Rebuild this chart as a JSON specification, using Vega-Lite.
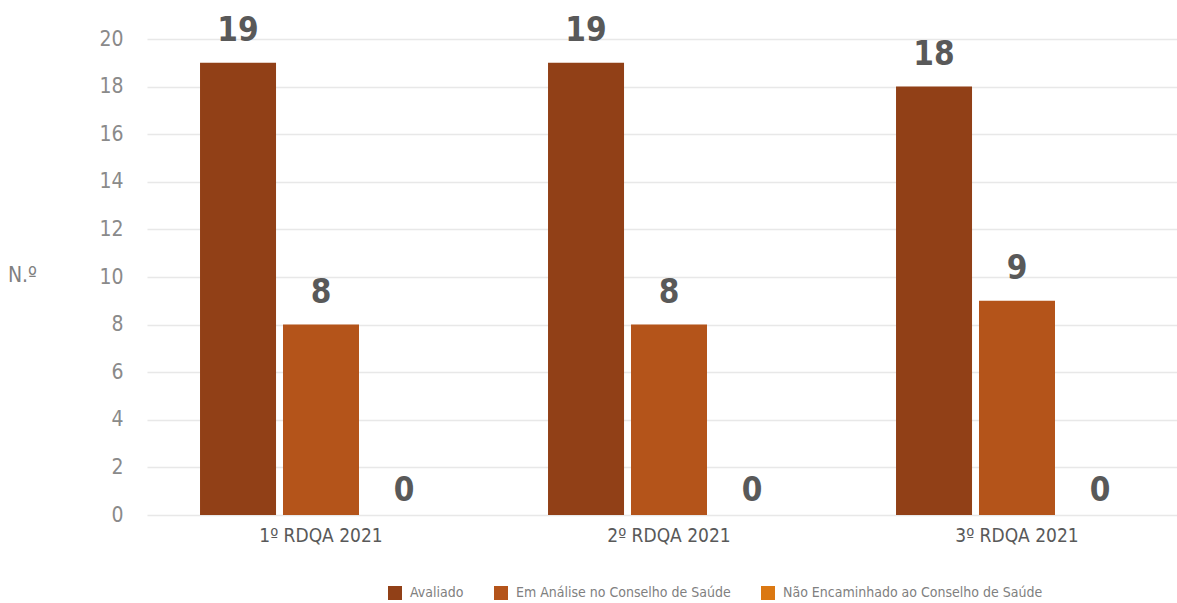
{
  "$schema": "https://vega.github.io/schema/vega-lite/v6.json",
  "autosize": {"type": "none"},
  "padding": {"left": 141, "top": 39, "right": 0, "bottom": 88},
  "width": 1036,
  "height": 476,
  "background": "white",
  "config": {
    "view": {"stroke": null},
    "font": "DejaVu Sans Condensed"
  },
  "data": {
    "values": [
      {"grupo": "1º RDQA 2021", "estado": "Avaliado", "valor": 19},
      {"grupo": "1º RDQA 2021", "estado": "Em Análise no Conselho de Saúde", "valor": 8},
      {"grupo": "1º RDQA 2021", "estado": "Não Encaminhado ao Conselho de Saúde", "valor": 0},
      {"grupo": "2º RDQA 2021", "estado": "Avaliado", "valor": 19},
      {"grupo": "2º RDQA 2021", "estado": "Em Análise no Conselho de Saúde", "valor": 8},
      {"grupo": "2º RDQA 2021", "estado": "Não Encaminhado ao Conselho de Saúde", "valor": 0},
      {"grupo": "3º RDQA 2021", "estado": "Avaliado", "valor": 18},
      {"grupo": "3º RDQA 2021", "estado": "Em Análise no Conselho de Saúde", "valor": 9},
      {"grupo": "3º RDQA 2021", "estado": "Não Encaminhado ao Conselho de Saúde", "valor": 0}
    ]
  },
  "encoding": {
    "x": {
      "field": "grupo", "type": "nominal", "sort": null,
      "scale": {"range": [6, 1050], "paddingInner": 0, "paddingOuter": 0},
      "axis": {
        "title": null, "labelAngle": 0, "domain": false, "ticks": false,
        "labelFontSize": 19, "labelColor": "#595959", "labelPadding": 11
      }
    },
    "xOffset": {
      "field": "estado", "type": "nominal", "sort": null,
      "scale": {"paddingInner": 0.084, "paddingOuter": 0.639}
    },
    "y": {
      "field": "valor", "type": "quantitative",
      "scale": {"domain": [0, 20], "nice": false},
      "axis": {
        "values": [0, 2, 4, 6, 8, 10, 12, 14, 16, 18, 20],
        "domain": false, "ticks": false,
        "gridColor": "#e8e8e8", "gridWidth": 1.5,
        "labelFontSize": 21, "labelColor": "#8a8a8a", "labelPadding": 18,
        "title": "N.º", "titleAngle": 0, "titleX": -119, "titleY": 236,
        "titleAlign": "center", "titleBaseline": "middle",
        "titleFontSize": 21, "titleFontWeight": "normal", "titleColor": "#808080"
      }
    }
  },
  "layer": [
    {
      "mark": {"type": "bar"},
      "encoding": {
        "color": {
          "field": "estado", "type": "nominal", "sort": null,
          "scale": {
            "domain": ["Avaliado", "Em Análise no Conselho de Saúde", "Não Encaminhado ao Conselho de Saúde"],
            "range": ["#914017", "#B4541A", "#DB7812"]
          },
          "legend": {
            "title": null, "orient": "none", "direction": "horizontal",
            "legendX": 247, "legendY": 547,
            "symbolType": "square", "symbolSize": 196, "symbolStrokeWidth": 0,
            "labelFontSize": 14, "labelColor": "#808080", "labelOffset": 8,
            "labelLimit": 500, "columnPadding": 30
          }
        }
      }
    },
    {
      "transform": [{"filter": "datum.valor > 0"}],
      "mark": {"type": "text", "dy": -22, "baseline": "alphabetic", "fontSize": 33, "fontWeight": "bold", "color": "#595959"},
      "encoding": {"text": {"field": "valor", "type": "quantitative"}}
    },
    {
      "transform": [{"filter": "datum.valor == 0"}],
      "mark": {"type": "text", "dy": -14, "baseline": "alphabetic", "fontSize": 33, "fontWeight": "bold", "color": "#595959"},
      "encoding": {"text": {"field": "valor", "type": "quantitative"}}
    }
  ]
}
